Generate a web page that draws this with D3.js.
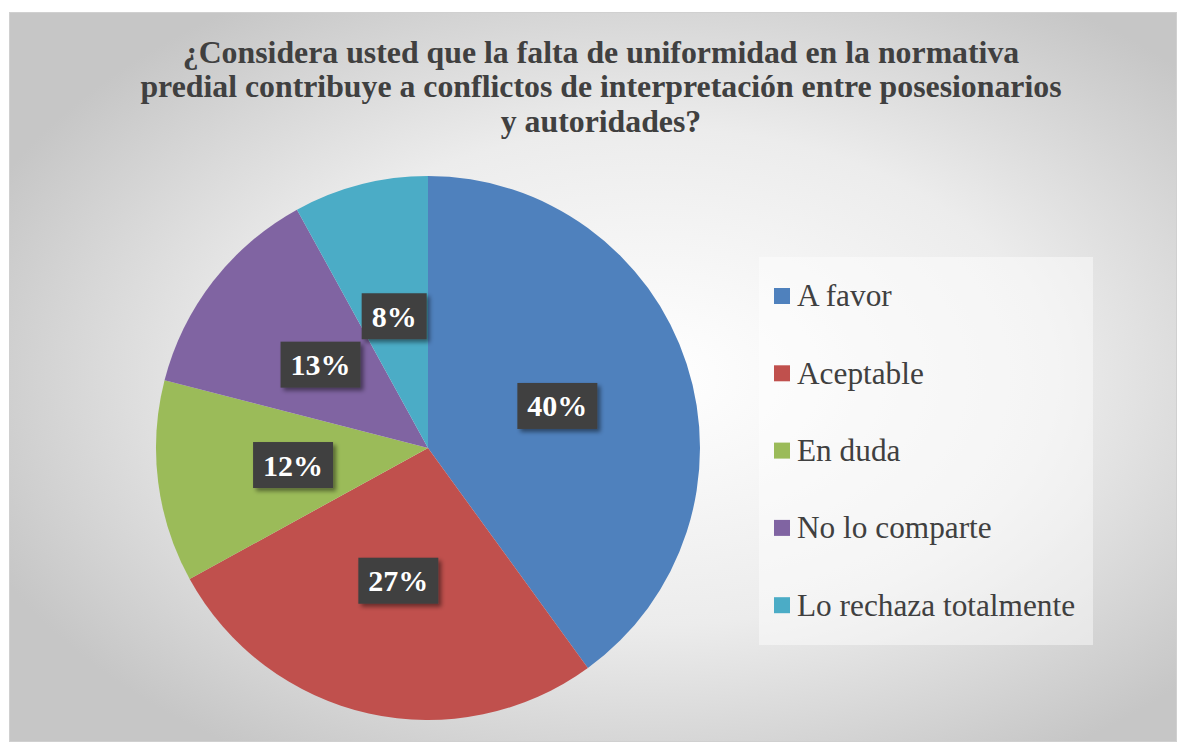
<!DOCTYPE html>
<html>
<head>
<meta charset="utf-8">
<script src="https://d3js.org/d3.v7.min.js"></script>
<style>
  body { margin: 0; background: #ffffff; }
  text { font-family: "Liberation Serif", "DejaVu Serif", serif; }
</style>
</head>
<body>
<svg id="chart"></svg>
<script>
// data
var categories = ["A favor", "Aceptable", "En duda", "No lo comparte", "Lo rechaza totalmente"];
var values = [40, 27, 12, 13, 8];
var colors = ["#4f81bd", "#c0504d", "#9bbb59", "#8064a2", "#4bacc6"];
var titleLines = [
  "¿Considera usted que la falta de uniformidad en la normativa",
  "predial contribuye a conflictos de interpretación entre posesionarios",
  "y autoridades?"
];

var width = 1180, height = 743;
var svg = d3.select("#chart").attr("width", width).attr("height", height);
var defs = svg.append("defs");

// background gradient
var grad = defs.append("radialGradient").attr("id", "bg")
  .attr("cx", "55%").attr("cy", "50%").attr("r", "62%");
grad.append("stop").attr("offset", "0%").attr("stop-color", "#ffffff");
grad.append("stop").attr("offset", "55%").attr("stop-color", "#ececec");
grad.append("stop").attr("offset", "100%").attr("stop-color", "#c6c6c6");

var shadow = defs.append("filter").attr("id", "shadow")
  .attr("x", "-20%").attr("y", "-20%").attr("width", "150%").attr("height", "160%");
shadow.append("feDropShadow").attr("dx", 3).attr("dy", 3).attr("stdDeviation", 2)
  .attr("flood-color", "#000").attr("flood-opacity", 0.45);

// chart area
svg.append("rect")
  .attr("x", 9.5).attr("y", 12.5).attr("width", 1167).attr("height", 729)
  .attr("fill", "url(#bg)").attr("stroke", "#d0d0d0");

// title
svg.append("g").selectAll("text")
  .data(titleLines).enter().append("text")
  .attr("x", 601)
  .attr("y", function(d, i) { return 62.5 + i * 34.5; })
  .attr("text-anchor", "middle")
  .style("font-weight", "bold")
  .style("font-size", "31.8px")
  .attr("fill", "#404040")
  .text(function(d) { return d; });

// pie
var cx = 428, cy = 448, radius = 272;
var pie = d3.pie().sort(null).value(function(d) { return d; });
var arcs = pie(values);
var arc = d3.arc().innerRadius(0).outerRadius(radius);

var g = svg.append("g").attr("transform", "translate(" + cx + "," + cy + ")");
g.selectAll("path")
  .data(arcs).enter().append("path")
  .attr("d", arc)
  .attr("fill", function(d, i) { return colors[i]; });

// labels
var labels = g.selectAll("g.label")
  .data(arcs).enter().append("g")
  .attr("class", "label")
  .attr("transform", function(d) {
    var c = arc.centroid(d);
    return "translate(" + c[0] + "," + c[1] + ")";
  });

labels.append("rect").attr("fill", "#404040").attr("filter", "url(#shadow)");
labels.append("text")
  .attr("text-anchor", "middle")
  .attr("dy", "0.35em")
  .style("font-weight", "bold")
  .style("font-size", "30px")
  .attr("fill", "#ffffff")
  .text(function(d) { return d.data + "%"; });

labels.each(function() {
  var t = d3.select(this).select("text").node().getBBox();
  d3.select(this).select("rect")
    .attr("x", t.x - 10).attr("y", -23)
    .attr("width", t.width + 20).attr("height", 46);
});

// legend
var legend = svg.append("g");
legend.append("rect")
  .attr("x", 759).attr("y", 257).attr("width", 334).attr("height", 388)
  .attr("fill", "#ffffff").attr("fill-opacity", 0.45);

var items = legend.selectAll("g.item")
  .data(categories).enter().append("g")
  .attr("class", "item")
  .attr("transform", function(d, i) { return "translate(774," + (296 + i * 77.3) + ")"; });

items.append("rect")
  .attr("x", 0).attr("y", -8).attr("width", 16).attr("height", 16)
  .attr("fill", function(d, i) { return colors[i]; });
items.append("text")
  .attr("x", 23).attr("dy", "0.33em")
  .style("font-size", "31.3px")
  .attr("fill", "#404040")
  .text(function(d) { return d; });
</script>
</body>
</html>
